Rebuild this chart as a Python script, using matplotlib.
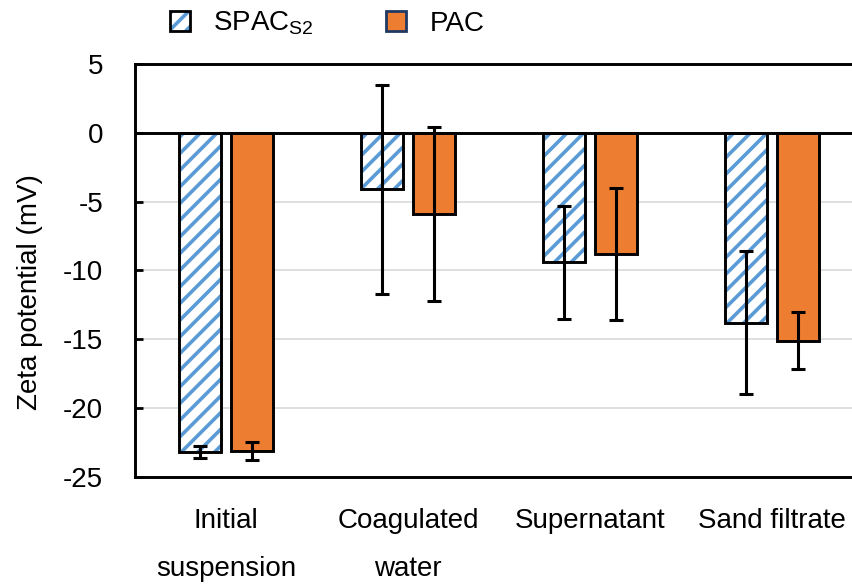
import matplotlib
matplotlib.use('Agg')
import matplotlib.pyplot as plt
import numpy as np
from matplotlib.patches import Patch
from matplotlib.legend_handler import HandlerTuple

plt.rcParams['font.family'] = ['Liberation Sans', 'DejaVu Sans']
plt.rcParams['axes.unicode_minus'] = False
plt.rcParams['hatch.linewidth'] = 2.6

# zeta potential along the treatment train (mV), mean and std
stages = ['Initial\nsuspension', 'Coagulated\nwater', 'Supernatant', 'Sand filtrate']
spac_mean = [-23.2, -4.1, -9.4, -13.8]
spac_err = [0.45, 7.6, 4.1, 5.2]
pac_mean = [-23.1, -5.9, -8.8, -15.1]
pac_err = [0.65, 6.3, 4.8, 2.05]

blue = '#5B9BD5'
orange = '#ED7D31'

fig = plt.figure(figsize=(8.52, 5.87), dpi=100)
ax = fig.add_axes([0.1585, 0.1874, 0.8545, 0.7036])

x = np.arange(len(stages))
w = 0.23
off = 0.143

# hatched bars: blue stripes first, then a black outline on top
ax.bar(x - off, spac_mean, w, color='white', edgecolor=blue, hatch='//', linewidth=0, zorder=2)
ax.bar(x - off, spac_mean, w, color='none', edgecolor='black', linewidth=2.1, zorder=3)
ax.bar(x + off, pac_mean, w, color=orange, edgecolor='black', linewidth=2.1, zorder=3)

ax.errorbar(x - off, spac_mean, yerr=spac_err, fmt='none', ecolor='black',
            elinewidth=2.2, capsize=5, capthick=2.2, zorder=4)
ax.errorbar(x + off, pac_mean, yerr=pac_err, fmt='none', ecolor='black',
            elinewidth=2.2, capsize=5, capthick=2.2, zorder=4)

ax.axhline(0, color='black', linewidth=2.1, zorder=3)

ax.set_xlim(-0.5, 3.5)
ax.set_ylim(-25, 5)
ax.set_yticks(np.arange(-25, 6, 5))
ax.yaxis.grid(True, color='#d9d9d9', linewidth=1.2, zorder=0)
ax.set_axisbelow(True)

ax.set_xticks(x)
ax.set_xticklabels(stages, fontsize=20, linespacing=2.1)
ax.tick_params(axis='x', length=0, pad=22)
ax.tick_params(axis='y', direction='in', length=6, width=2, labelsize=20, pad=23)

for s in ['left', 'bottom', 'top']:
    ax.spines[s].set_linewidth(2.1)
ax.spines['right'].set_visible(False)

fig.text(0.035, 0.503, 'Zeta potential (mV)', rotation=90, fontsize=20,
         ha='center', va='center')

h_spac = (Patch(facecolor='white', edgecolor=blue, hatch='//', linewidth=0),
          Patch(facecolor='none', edgecolor='black', linewidth=2))
h_pac = Patch(facecolor=orange, edgecolor='#203864', linewidth=2)
fig.legend([h_spac, h_pac], ['SPAC$_{\\mathregular{S2}}$', 'PAC'],
           handler_map={tuple: HandlerTuple(ndivide=1, pad=0)},
           loc='center', bbox_to_anchor=(0.384, 0.96), ncol=2, frameon=False,
           fontsize=20, handlelength=0.72, handleheight=0.72,
           handletextpad=0.85, columnspacing=2.6)

fig.savefig('out.png', dpi=100)
